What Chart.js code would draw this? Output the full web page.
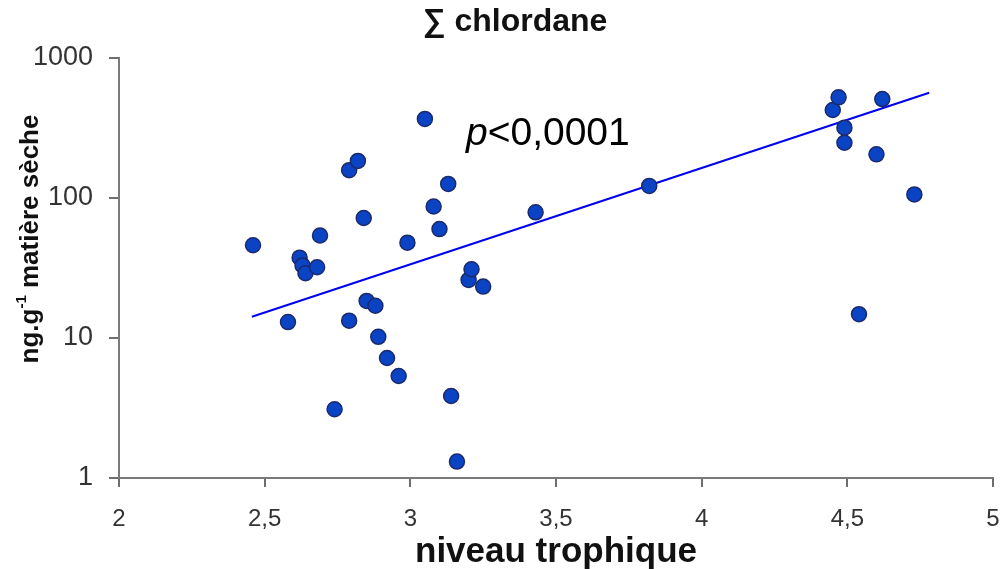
<html>
<head>
<script src="https://cdn.jsdelivr.net/npm/chart.js@4.4.0/dist/chart.umd.min.js"></script>
<style>
  body { margin: 0; background: #fff; }
  #wrap { width: 1005px; height: 569px; }
</style>
</head>
<body>
<div id="wrap"><canvas id="canvas" width="1005" height="569"></canvas></div>
<script>
// niveau trophique (x) et ∑ chlordane en ng/g matière sèche (y)
var trophicLevel = [2.46, 2.58, 2.62, 2.63, 2.64, 2.68, 2.69, 2.74, 2.79, 2.79, 2.82, 2.84, 2.85, 2.88,
                    2.89, 2.92, 2.96, 2.99, 3.05, 3.08, 3.10, 3.13, 3.14, 3.16, 3.20, 3.21, 3.25, 3.43,
                    3.82, 4.45, 4.47, 4.49, 4.49, 4.54, 4.60, 4.62, 4.73];
var chlordane    = [46, 13, 37.5, 33, 29, 32, 54, 3.1, 13.3, 158, 184, 72, 18.4, 17,
                    10.2, 7.2, 5.35, 48, 367, 87, 60, 126, 3.85, 1.31, 26, 31, 23.3, 79,
                    122, 425, 524, 318, 248, 14.8, 205, 509, 106];
// droite de régression (extrémités)
var fitX = [2.456, 4.781];
var fitY = [14.2, 565];

var xTicks = [2, 2.5, 3, 3.5, 4, 4.5, 5];
var yTicks = [1, 10, 100, 1000];

var titleText = '\u2211 chlordane';
var xTitle = 'niveau trophique';
var pText = '<0,0001';

var font = "'Liberation Sans', Arial, sans-serif";

var points = trophicLevel.map(function(x, i) { return { x: x, y: chlordane[i] }; });
var fit = fitX.map(function(x, i) { return { x: x, y: fitY[i] }; });

var textPlugin = {
  id: 'texts',
  afterDraw: function(chart) {
    var ctx = chart.ctx;
    var area = chart.chartArea;
    ctx.save();
    ctx.fillStyle = '#111';
    // titre
    ctx.font = 'bold 32px ' + font;
    ctx.textAlign = 'center';
    ctx.textBaseline = 'alphabetic';
    ctx.fillText(titleText, 515, 31);
    // titre axe x
    ctx.font = 'bold 35px ' + font;
    ctx.fillText(xTitle, (area.left + area.right) / 2, 562);
    // titre axe y (avec exposant)
    ctx.translate(38, 239);
    ctx.rotate(-Math.PI / 2);
    var a = 'ng.g', sup = '-1', b = ' mati\u00e8re s\u00e8che';
    ctx.font = 'bold 26px ' + font;
    var wa = ctx.measureText(a).width, wb = ctx.measureText(b).width;
    ctx.font = 'bold 15px ' + font;
    var ws = ctx.measureText(sup).width;
    var x0 = -(wa + ws + wb) / 2;
    ctx.textAlign = 'left';
    ctx.font = 'bold 26px ' + font;
    ctx.fillText(a, x0, 0);
    ctx.font = 'bold 15px ' + font;
    ctx.fillText(sup, x0 + wa, -12);
    ctx.font = 'bold 26px ' + font;
    ctx.fillText(b, x0 + wa + ws, 0);
    ctx.restore();
    // p<0,0001
    ctx.save();
    ctx.fillStyle = '#000';
    ctx.textAlign = 'left';
    ctx.font = 'italic 39px ' + font;
    ctx.fillText('p', 466, 145);
    var wp = ctx.measureText('p').width;
    ctx.font = '39px ' + font;
    ctx.fillText(pText, 466 + wp, 145);
    ctx.restore();
  }
};

var ctx = document.getElementById('canvas').getContext('2d');
var chart = new Chart(ctx, {
  type: 'scatter',
  data: {
    datasets: [{
      type: 'line',
      data: fit,
      borderColor: '#0000f0',
      borderWidth: 2,
      pointRadius: 0,
      fill: false,
      order: 2
    }, {
      data: points,
      backgroundColor: '#0a44c4',
      borderColor: '#1b2a6e',
      borderWidth: 1.5,
      pointRadius: 7.5,
      order: 1
    }]
  },
  options: {
    responsive: false,
    animation: false,
    layout: { padding: { top: 58, right: 0, left: 0, bottom: 0 } },
    plugins: { legend: { display: false }, tooltip: { enabled: false }, title: { display: false } },
    scales: {
      x: {
        type: 'linear',
        min: 2, max: 5,
        afterBuildTicks: function(scale) { scale.ticks = xTicks.map(function(v) { return { value: v }; }); },
        afterFit: function(scale) {
          scale.height = 569 - 478;
          scale.paddingRight = 12;
          scale.paddingLeft = 0;
        },
        grid: { drawOnChartArea: false, drawTicks: true, tickLength: 9, color: '#6e6e6e', lineWidth: 2 },
        border: { display: true, color: '#7a7a7a', width: 2 },
        ticks: {
          color: '#333',
          padding: 18,
          font: { family: font, size: 24 },
          callback: function(v) { return String(v).replace('.', ','); }
        }
      },
      y: {
        type: 'logarithmic',
        min: 1, max: 1000,
        afterBuildTicks: function(scale) { scale.ticks = yTicks.map(function(v) { return { value: v }; }); },
        afterFit: function(scale) { scale.width = 119; },
        grid: { drawOnChartArea: false, drawTicks: true, tickLength: 10, color: '#6e6e6e', lineWidth: 2 },
        border: { display: true, color: '#7a7a7a', width: 2 },
        ticks: {
          color: '#333',
          padding: 16,
          font: { family: font, size: 27 },
          callback: function(v) { return String(v); }
        }
      }
    }
  },
  plugins: [textPlugin]
});
</script>
</body>
</html>
